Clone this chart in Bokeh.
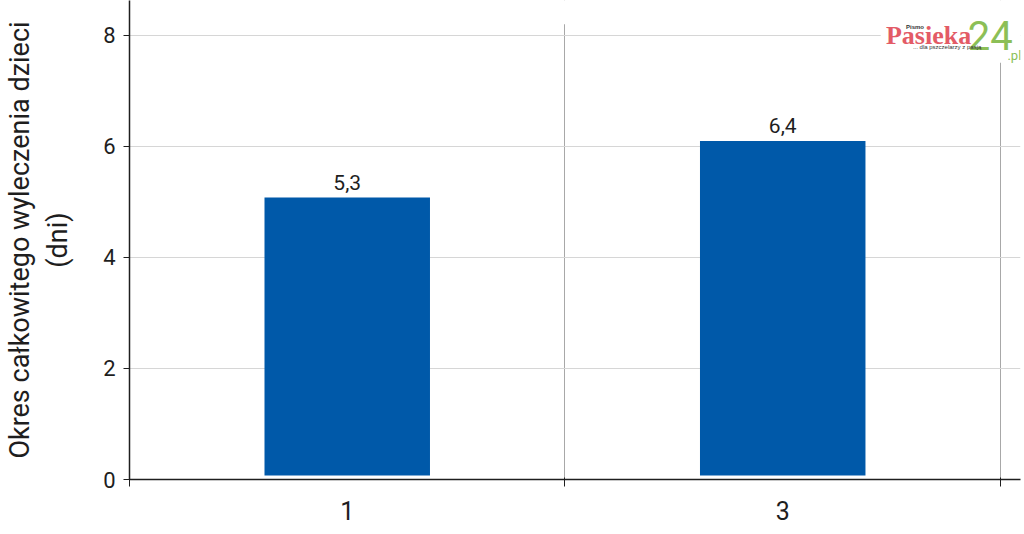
from bokeh.plotting import figure
from bokeh.models import ColumnDataSource, Range1d, FixedTicker, Label, BoxAnnotation
from bokeh.core.properties import value
from bokeh.embed import file_html
from bokeh.resources import INLINE

# ---- data ----
categories = ["1", "3"]
bar_heights = [5.08, 6.10]          # heights as drawn
bar_labels = ["5,3", "6,4"]          # printed values
bar_base = 0.07
y_ticks = [0, 2, 4, 6, 8]
y_title = "Okres całkowitego wyleczenia dzieci\n(dni)"

xs = [i + 0.5 for i in range(len(categories))]
bounds = [float(i) for i in range(len(categories) + 1)]

FONT = "Roboto"
TXT = "#1e1e1e"

p = figure(width=1024, height=534, x_range=Range1d(0, 2.046), y_range=Range1d(0, 8.63),
           output_backend="svg", toolbar_location=None,
           min_border_left=126, min_border_right=4, min_border_top=0, min_border_bottom=55)
p.outline_line_color = None
p.background_fill_color = "white"

src = ColumnDataSource(dict(x=xs, top=bar_heights, label=bar_labels))
p.vbar(x="x", top="top", bottom=bar_base, width=0.38, source=src,
       fill_color="#0059A9", line_color=None)
p.text(x="x", y="top", text="label", source=src, text_align="center", text_baseline="bottom",
       y_offset=-8, text_font=value(FONT), text_font_size="21px", text_color=TXT)

# x axis
xt = FixedTicker(ticks=xs, minor_ticks=bounds)
p.xaxis.ticker = xt
p.xaxis.major_label_overrides = {x: c for x, c in zip(xs, categories)}
p.xaxis.major_tick_line_color = None
p.xaxis.minor_tick_line_color = TXT
p.xaxis.minor_tick_out = 7
p.xaxis.minor_tick_in = 2
p.xaxis.axis_line_color = TXT
p.xaxis.axis_line_width = 1.5
p.xaxis.major_label_text_font = FONT
p.xaxis.major_label_text_font_size = "25px"
p.xaxis.major_label_text_color = TXT
p.xaxis.major_label_standoff = 14

p.xgrid.ticker = xt
p.xgrid.grid_line_color = None
p.xgrid.minor_grid_line_color = "#a8a8a8"
p.xgrid.minor_grid_line_width = 1

# y axis
yt = FixedTicker(ticks=y_ticks, minor_ticks=[])
p.yaxis.ticker = yt
p.yaxis.axis_line_color = TXT
p.yaxis.axis_line_width = 1.5
p.yaxis.major_tick_line_color = TXT
p.yaxis.major_tick_out = 6
p.yaxis.major_tick_in = 0
p.yaxis.minor_tick_line_color = None
p.yaxis.major_label_text_font = FONT
p.yaxis.major_label_text_font_size = "22px"
p.yaxis.major_label_text_color = TXT
p.yaxis.major_label_standoff = 8
p.yaxis.axis_label = y_title
p.yaxis.axis_label_text_font = FONT
p.yaxis.axis_label_text_font_style = "normal"
p.yaxis.axis_label_text_font_size = "27px"
p.yaxis.axis_label_text_color = TXT
p.yaxis.axis_label_standoff = 26

p.ygrid.ticker = yt
p.ygrid.grid_line_color = "#d6d6d6"
p.ygrid.grid_line_width = 1

# white strip hiding the vertical grid lines above the top region
p.add_layout(BoxAnnotation(bottom=8.2, fill_color="white", fill_alpha=1, line_color=None, level="underlay"))

# logo
p.add_layout(BoxAnnotation(left=1.725, right=2.046, bottom=7.51, top=8.63,
                           fill_color="white", fill_alpha=1, line_color=None))
p.add_layout(Label(x=1.737, y=8.0, text="Pasieka", text_font="Liberation Serif", text_font_size="26px",
                   text_color="#e35b66", text_font_style="bold", text_baseline="alphabetic"))
p.add_layout(Label(x=1.925, y=8.0, text="24", text_font="Roboto", text_font_size="40px",
                   text_color="#8cbf57", text_baseline="alphabetic"))
p.add_layout(Label(x=2.016, y=7.64, text=".pl", text_font="Roboto", text_font_size="13px",
                   text_color="#8cbf57", text_baseline="alphabetic"))
p.add_layout(Label(x=1.783, y=8.16, text="Pismo", text_font="Liberation Sans", text_font_size="6px",
                   text_color="#333333", text_font_style="bold", text_baseline="alphabetic"))
p.add_layout(Label(x=1.799, y=7.80, text="... dla pszczelarzy z pasją", text_font="Liberation Sans",
                   text_font_size="6px", text_color="#333333", text_baseline="alphabetic"))

open("out.html", "w").write(file_html(p, INLINE))
